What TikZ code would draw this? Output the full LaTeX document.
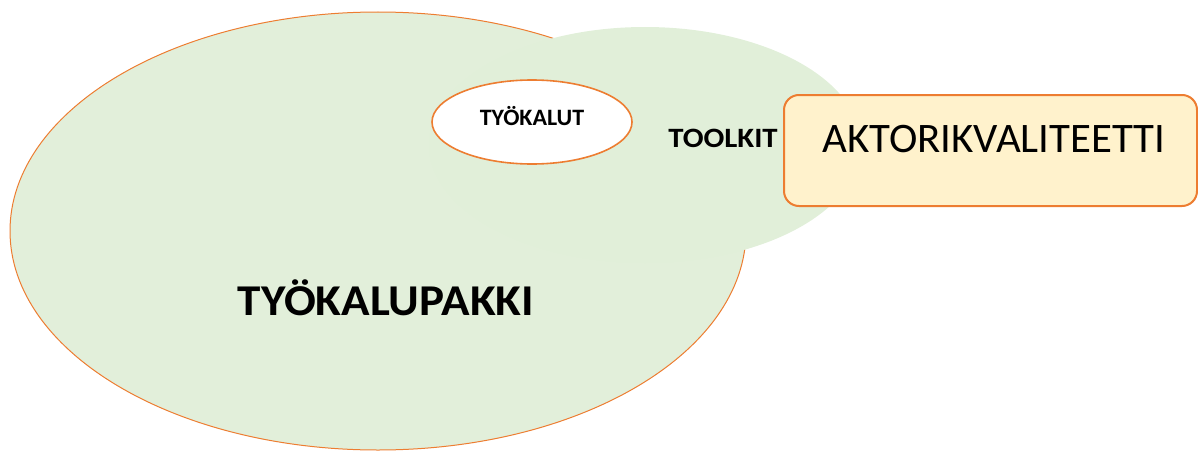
\documentclass[tikz,border=0pt]{standalone}
\usepackage{fontspec}
\setmainfont{Carlito}
\definecolor{orng}{HTML}{ED7D31}
\definecolor{grn}{HTML}{E2EFDA}
\definecolor{grn2}{HTML}{E1EFD9}
\definecolor{ylw}{HTML}{FFF2CC}
\begin{document}
\begin{tikzpicture}[x=1pt,y=-1pt,
  lbl/.style={inner sep=0pt, text=black}]
\useasboundingbox (0,0) rectangle (1198,452);
% big ellipse
\draw[orng, line width=1pt, fill=grn] (378,231) ellipse [x radius=368, y radius=219];
% second ellipse (no outline)
\fill[grn2] (645,145) ellipse [x radius=216, y radius=118];
% small ellipse
\draw[orng, line width=1.6pt, fill=white] (532,122) ellipse [x radius=100, y radius=42];
\node[lbl, font=\fontsize{23.5}{23.5}\selectfont\bfseries] (tk) at (532,116) {\scalebox{1.02}[1]{TYÖKALUT}};
\node[lbl, font=\fontsize{28}{28}\selectfont\bfseries] (tl) at (723,138) {\scalebox{1.1}[1]{TOOLKIT}};
\node[lbl, font=\fontsize{44}{44}\selectfont\bfseries] (tp) at (386,298) {\scalebox{1.07}[1]{TYÖKALUPAKKI}};
% rounded box
\draw[orng, line width=2pt, fill=ylw, rounded corners=15pt] (784,95) rectangle (1197,206);
\node[lbl, font=\fontsize{42}{42}\selectfont] (ak) at (994,139) {\scalebox{1.02}[1]{AKTORIKVALITEETTI}};
\end{tikzpicture}
\end{document}
